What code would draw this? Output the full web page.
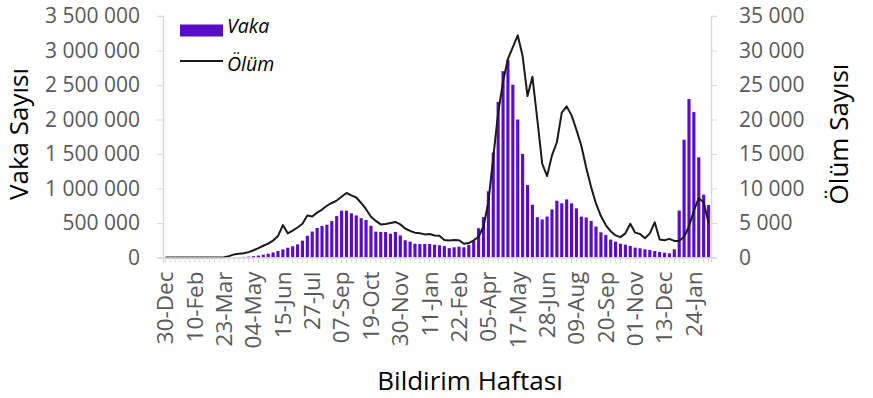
<!DOCTYPE html>
<html>
<head>
<meta charset="utf-8">
<script src="https://cdn.jsdelivr.net/npm/d3@7"></script>
<style>
  body { margin: 0; background: #fff; }
  svg { font-family: 'Open Sans', sans-serif; }
</style>
</head>
<body>
<div id="chart"></div>
<script>
// weekly cases (Vaka) from week of 30-Dec-2019, one value per week
let vaka = [
  0, 0, 0, 0, 0, 0, 0, 0, 0, 0,
  100, 300, 1000, 2000, 4000, 6000, 9000, 13000, 20000, 28000,
  40000, 55000, 74000, 94000, 118000, 142000, 162000, 190000, 244000, 315000,
  376000, 428000, 458000, 475000, 528000, 600000, 678000, 678000, 640000, 610000,
  570000, 545000, 460000, 375000, 370000, 370000, 345000, 370000, 320000, 250000,
  230000, 200000, 195000, 195000, 195000, 185000, 178000, 165000, 135000, 148000,
  157000, 148000, 183000, 250000, 424000, 584000, 960000, 1520000, 2255000, 2700000,
  2865000, 2505000, 2000000, 1502000, 1050000, 765000, 585000, 552000, 593000, 697000,
  823000, 785000, 842000, 785000, 712000, 592000, 580000, 530000, 448000, 365000,
  327000, 260000, 230000, 200000, 186000, 167000, 143000, 133000, 119000, 109000,
  94000, 80000, 70000, 61000, 119000, 680000, 1708000, 2296000, 2107000, 1453000,
  910000, 762000
]

// weekly deaths (Ölüm)
let olum = [
  0, 0, 0, 0, 0, 0, 0, 0, 0, 0,
  0, 0, 30, 200, 450, 550, 620, 780, 1050, 1350,
  1700, 2000, 2450, 3100, 4700, 3500, 3900, 4350, 4900, 6100,
  5950, 6500, 6950, 7500, 7900, 8250, 8800, 9350, 9000, 8700,
  7900, 7000, 5900, 5300, 4800, 4850, 5000, 5150, 4800, 4200,
  3850, 3600, 3500, 3350, 3400, 3200, 3150, 2550, 2450, 2550,
  2500, 2000, 2100, 2500, 3000, 4500, 8000, 14500, 21000, 25500,
  28800, 30500, 32200, 29200, 23400, 26200, 20000, 13600, 11800, 14800,
  16700, 21000, 21900, 20600, 18500, 16200, 13000, 10200, 7800, 6000,
  4700, 3800, 3200, 2950, 3500, 4900, 3600, 3400, 2800, 3500,
  5100, 2600, 2500, 2700, 2400, 2400, 3000, 4500, 6800, 8600,
  8000, 5000
]

// x tick labels, one every 6 weeks
let tickLabels = [
  '30-Dec', '10-Feb', '23-Mar', '04-May', '15-Jun', '27-Jul', '07-Sep',
  '19-Oct', '30-Nov', '11-Jan', '22-Feb', '05-Apr', '17-May', '28-Jun',
  '09-Aug', '20-Sep', '01-Nov', '13-Dec', '24-Jan'
]

let vakaTicks = [0, 500000, 1000000, 1500000, 2000000, 2500000, 3000000, 3500000]
let olumTicks = [0, 5000, 10000, 15000, 20000, 25000, 30000, 35000]

let weeks = d3.range(vaka.length)

let margin = { top: 16, left: 163, right: 162, bottom: 140 }
let svgWidth = 873
let svgHeight = 398
let width = svgWidth - margin.left - margin.right
let height = 257.5 - margin.top

let svg = d3
  .select('#chart')
  .append('svg')
  .attr('width', svgWidth)
  .attr('height', svgHeight)

let g = svg
  .append('g')
  .attr('transform', 'translate(' + margin.left + ',' + margin.top + ')')

let xPositionScale = d3
  .scaleBand()
  .domain(weeks)
  .range([0, width])
  .paddingInner(0.36)
  .paddingOuter(0.18)

let yLeft = d3
  .scaleLinear()
  .domain([0, 3500000])
  .range([height, 0])

let yRight = d3
  .scaleLinear()
  .domain([0, 35000])
  .range([height, 0])

let fmt = d => d3.format(',')(d).replace(/,/g, ' ')

// bars
g.selectAll('.bar')
  .data(weeks)
  .enter()
  .append('rect')
  .attr('class', 'bar')
  .attr('x', d => xPositionScale(d))
  .attr('width', xPositionScale.bandwidth())
  .attr('y', d => yLeft(vaka[d]))
  .attr('height', d => height - yLeft(vaka[d]))
  .attr('fill', '#5a0bc6')

// deaths line
let line = d3
  .line()
  .x(d => xPositionScale(d) + xPositionScale.bandwidth() / 2)
  .y(d => yRight(olum[d]))

g.append('path')
  .datum(weeks)
  .attr('d', line)
  .attr('fill', 'none')
  .attr('stroke', '#1a1a1a')
  .attr('stroke-width', 2)
  .attr('stroke-linejoin', 'round')

// axes
let xAxis = d3
  .axisBottom(xPositionScale)
  .tickSize(5)
  .tickFormat(d => (d % 6 === 0 ? tickLabels[d / 6] : ''))

let xAxisG = g
  .append('g')
  .attr('class', 'axis x-axis')
  .attr('transform', 'translate(0,' + height + ')')
  .call(xAxis)

xAxisG
  .selectAll('text')
  .attr('transform', 'rotate(-90)')
  .attr('x', -14)
  .attr('y', 0)
  .attr('dy', '0.35em')
  .attr('text-anchor', 'end')
  .attr('font-size', 22.5)

let yAxisLeft = d3
  .axisLeft(yLeft)
  .tickValues(vakaTicks)
  .tickSize(6)
  .tickPadding(17)
  .tickFormat(fmt)

g.append('g')
  .attr('class', 'axis y-axis')
  .call(yAxisLeft)
  .selectAll('text')
  .attr('font-size', 21)

let yAxisRight = d3
  .axisRight(yRight)
  .tickValues(olumTicks)
  .tickSize(6)
  .tickPadding(22)
  .tickFormat(fmt)

g.append('g')
  .attr('class', 'axis y-axis-right')
  .attr('transform', 'translate(' + width + ',0)')
  .call(yAxisRight)
  .selectAll('text')
  .attr('font-size', 21)

svg.selectAll('.axis path, .axis line').attr('stroke', '#d9d9d9')
svg.selectAll('.axis text').attr('fill', '#595959').attr('font-family', "'Open Sans', sans-serif")
svg.selectAll('.axis path').attr('stroke-width', 1.5)

// axis titles
svg
  .append('text')
  .text('Vaka Sayısı')
  .attr('transform', 'translate(28,134) rotate(-90)')
  .attr('text-anchor', 'middle')
  .attr('font-size', 26)
  .attr('fill', '#000')

svg
  .append('text')
  .text('Ölüm Sayısı')
  .attr('transform', 'translate(848,134) rotate(-90)')
  .attr('text-anchor', 'middle')
  .attr('font-size', 26)
  .attr('fill', '#000')

svg
  .append('text')
  .text('Bildirim Haftası')
  .attr('x', 470)
  .attr('y', 390)
  .attr('text-anchor', 'middle')
  .attr('font-size', 26)
  .attr('fill', '#000')

// legend
svg
  .append('rect')
  .attr('x', 180)
  .attr('y', 24.5)
  .attr('width', 43)
  .attr('height', 12)
  .attr('fill', '#5a0bc6')

svg
  .append('text')
  .text('Vaka')
  .attr('x', 227)
  .attr('y', 33)
  .attr('font-size', 19.5)
  .attr('font-style', 'italic')
  .attr('fill', '#000')

svg
  .append('line')
  .attr('x1', 180)
  .attr('x2', 223)
  .attr('y1', 61)
  .attr('y2', 61)
  .attr('stroke', '#1a1a1a')
  .attr('stroke-width', 2)

svg
  .append('text')
  .text('Ölüm')
  .attr('x', 227)
  .attr('y', 71)
  .attr('font-size', 19.5)
  .attr('font-style', 'italic')
  .attr('fill', '#000')
</script>
</body>
</html>
